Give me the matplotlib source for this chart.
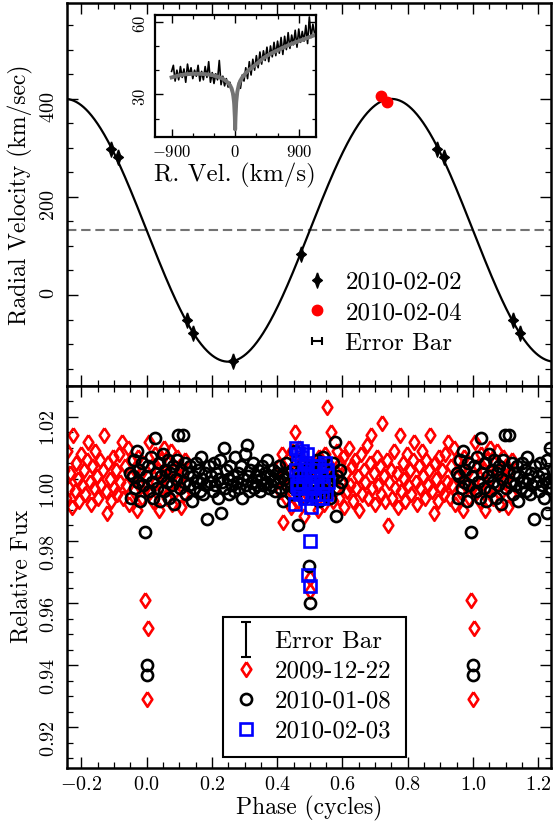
import numpy as np
import matplotlib
matplotlib.use('Agg')
import matplotlib.pyplot as plt
from matplotlib.ticker import MultipleLocator
from matplotlib.legend_handler import HandlerErrorbar

plt.rcParams['font.family'] = ['cmr10', 'DejaVu Serif']
plt.rcParams['mathtext.fontset'] = 'cm'
plt.rcParams['axes.formatter.use_mathtext'] = True
plt.rcParams['axes.unicode_minus'] = True

# ---------------- data ----------------
# radial velocity (2010-02-02) and (2010-02-04)
rv_phase = [0.124, 0.143, 0.265, 0.473, 0.890, 0.911]
rv_vel = [-52, -78, -134, 83, 297, 281]
rv2_phase = [0.717, 0.736]
rv2_vel = [405, 393]
# orbital fit (systemic velocity, semi-amplitude)
gamma = 132.0
K_amp = 268.0

# inset spectrum
spec_v = [-900, -875, -850, -825, -800, -775, -750, -725, -700, -675,
          -650, -625, -600, -575, -550, -525, -500, -475, -450, -425,
          -400, -375, -350, -325, -300, -275, -250, -225, -200, -175,
          -150, -125, -100, -75, -50, -25, 0, 25, 50, 75,
          100, 125, 150, 175, 200, 225, 250, 275, 300, 325,
          350, 375, 400, 425, 450, 475, 500, 525, 550, 575,
          600, 625, 650, 675, 700, 725, 750, 775, 800, 825,
          850, 875, 900, 925, 950, 975, 1000, 1025, 1050, 1075,
          1100, 1125]
spec_f = [39.5, 42.0, 35.5, 40.0, 36.0, 41.5, 37.0, 40.5, 35.0, 42.5,
          38.0, 41.0, 36.5, 40.0, 37.5, 42.0, 35.5, 39.5, 36.0, 41.5,
          37.0, 43.5, 35.0, 39.0, 34.5, 38.5, 36.0, 44.0, 34.0, 37.5,
          33.5, 36.5, 33.0, 35.0, 31.5, 28.5, 17.0, 29.5, 35.0, 32.5,
          38.0, 35.5, 41.0, 36.5, 43.5, 38.0, 44.5, 40.0, 46.0, 41.0,
          47.5, 42.5, 48.0, 44.0, 49.5, 43.5, 50.0, 45.5, 51.5, 46.0,
          52.0, 47.0, 53.5, 46.5, 54.0, 48.5, 55.5, 49.0, 54.5, 50.5,
          56.5, 49.5, 57.0, 51.5, 56.0, 52.0, 58.5, 51.0, 62.0, 53.5,
          59.0, 55.0]
fit_v = [-900, -800, -700, -600, -500, -400, -300, -200, -150, -100, -70, -50,
         -30, -15, -5, 0, 5, 15, 30, 50, 70, 100, 150, 200, 300, 400, 500,
         600, 700, 800, 900, 1000, 1100, 1140]
fit_f = [37.0, 37.8, 38.3, 38.5, 38.5, 38.3, 37.8, 36.8, 36.0, 34.8, 33.6, 32.4,
         30.2, 26.5, 20.5, 15.5, 20.5, 26.8, 31.0, 33.8, 35.5, 37.0, 38.8, 40.2,
         42.5, 45.0, 46.8, 48.2, 49.6, 50.9, 52.0, 53.1, 54.2, 54.6]

# light curves: 2009-12-22
red_phase = [0.405, 0.409, 0.414, 0.418, 0.423, 0.427, 0.432, 0.436, 0.441, 0.445,
             0.450, 0.454, 0.459, 0.463, 0.468, 0.472, 0.477, 0.481, 0.486, 0.490,
             0.495, 0.499, 0.502, 0.506, 0.511, 0.515, 0.520, 0.524, 0.529, 0.533,
             0.538, 0.542, 0.547, 0.552, 0.556, 0.561, 0.566, 0.570, 0.575, 0.579,
             0.584, 0.588, 0.593, 0.597, 0.602, 0.606, 0.611, 0.615, 0.620, 0.624,
             0.629, 0.633, 0.638, 0.642, 0.647, 0.651, 0.656, 0.660, 0.665, 0.669,
             0.674, 0.678, 0.683, 0.687, 0.692, 0.696, 0.701, 0.705, 0.710, 0.714,
             0.719, 0.722, 0.727, 0.731, 0.736, 0.739, 0.744, 0.748, 0.753, 0.757,
             0.762, 0.766, 0.771, 0.775, 0.780, 0.784, 0.789, 0.793, 0.798, 0.802,
             0.807, 0.811, 0.816, 0.820, 0.825, 0.829, 0.834, 0.838, 0.843, 0.847,
             0.852, 0.856, 0.861, 0.865, 0.869, 0.874, 0.879, 0.883, 0.888, 0.892,
             0.897, 0.901, 0.906, 0.910, 0.915, 0.919, 0.924, 0.928, 0.933, 0.937,
             0.942, 0.946, 0.951, 0.955, 0.960, 0.964, 0.969, 0.973, 0.978, 0.982,
             0.987, 0.991, 0.994, 0.996, 0.000, 0.003, 0.007, 0.011, 0.016, 0.020,
             0.025, 0.029, 0.034, 0.038, 0.043, 0.047, 0.052, 0.056, 0.061, 0.065,
             0.070, 0.074, 0.079, 0.083, 0.088, 0.092, 0.097, 0.101, 0.106, 0.110,
             0.115, 0.119]
red_flux = [1.004, 0.996, 1.008, 0.986, 1.001, 0.994, 1.006, 0.999, 0.991, 1.009,
            0.997, 1.015, 1.003, 0.993, 1.010, 0.999, 1.006, 0.988, 1.002, 0.995,
            1.004, 0.968, 0.964, 0.998, 1.005, 0.994, 1.002, 0.990, 1.007, 0.997,
            1.003, 0.992, 1.008, 1.023, 0.996, 1.004, 1.015, 0.993, 1.001, 0.997,
            1.009, 0.994, 1.005, 0.999, 1.007, 0.991, 1.002, 0.996, 1.010, 0.998,
            1.004, 0.993, 1.006, 0.997, 1.001, 0.990, 1.008, 0.995, 1.003, 0.999,
            1.011, 0.994, 1.005, 1.014, 0.997, 1.002, 0.992, 1.007, 0.998, 1.004,
            0.995, 1.018, 1.001, 0.993, 1.006, 0.985, 0.999, 1.003, 0.994, 1.009,
            0.997, 1.002, 0.991, 1.014, 0.996, 1.005, 1.000, 0.993, 1.008, 0.998,
            1.003, 0.995, 1.006, 1.012, 0.999, 0.992, 1.004, 0.997, 1.009, 1.001,
            0.994, 1.006, 0.998, 1.003, 1.014, 0.996, 0.989, 1.005, 1.000, 0.993,
            1.007, 0.997, 1.003, 0.995, 1.008, 0.999, 1.012, 0.994, 1.004, 0.998,
            1.010, 0.992, 1.006, 1.001, 0.996, 1.003, 0.990, 1.007, 0.998, 1.002,
            0.994, 1.005, 0.961, 0.997, 0.929, 0.952, 1.012, 0.996, 1.004, 0.993,
            1.008, 0.999, 1.003, 0.990, 1.006, 0.997, 1.010, 1.001, 0.994, 1.005,
            0.998, 1.009, 0.992, 1.003, 0.996, 1.007, 0.999, 1.004, 0.991, 1.002,
            0.995, 1.006]

# light curves: 2010-01-08
blk_phase = [0.950, 0.953, 0.957, 0.961, 0.965, 0.969, 0.973, 0.977, 0.981, 0.985,
             0.989, 0.994, 0.998, 0.000, 0.001, 0.004, 0.008, 0.012, 0.016, 0.020,
             0.025, 0.029, 0.033, 0.037, 0.041, 0.045, 0.049, 0.053, 0.057, 0.061,
             0.065, 0.069, 0.073, 0.077, 0.081, 0.085, 0.089, 0.093, 0.097, 0.101,
             0.105, 0.110, 0.114, 0.118, 0.122, 0.126, 0.130, 0.134, 0.138, 0.142,
             0.146, 0.150, 0.154, 0.158, 0.162, 0.166, 0.170, 0.174, 0.178, 0.182,
             0.186, 0.190, 0.194, 0.198, 0.202, 0.206, 0.210, 0.214, 0.218, 0.222,
             0.226, 0.228, 0.232, 0.236, 0.240, 0.244, 0.248, 0.252, 0.256, 0.260,
             0.264, 0.268, 0.272, 0.276, 0.280, 0.284, 0.288, 0.292, 0.296, 0.300,
             0.304, 0.306, 0.310, 0.314, 0.318, 0.322, 0.326, 0.330, 0.334, 0.338,
             0.342, 0.346, 0.350, 0.354, 0.358, 0.362, 0.366, 0.370, 0.374, 0.378,
             0.382, 0.386, 0.390, 0.394, 0.398, 0.402, 0.406, 0.410, 0.414, 0.418,
             0.422, 0.426, 0.430, 0.434, 0.438, 0.442, 0.446, 0.450, 0.454, 0.458,
             0.462, 0.464, 0.468, 0.472, 0.476, 0.480, 0.484, 0.488, 0.492, 0.497,
             0.499, 0.503, 0.507, 0.511, 0.515, 0.519, 0.523, 0.527, 0.531, 0.535,
             0.539, 0.543, 0.547, 0.551, 0.555, 0.559, 0.563, 0.567, 0.571, 0.576,
             0.579, 0.583, 0.587, 0.591, 0.595]
blk_flux = [1.002, 0.994, 1.001, 1.006, 0.997, 1.009, 0.999, 1.003, 0.993, 1.005,
            0.998, 0.983, 1.001, 0.940, 0.937, 1.004, 0.996, 1.007, 0.999, 0.994,
            1.013, 1.002, 0.997, 1.005, 0.993, 1.001, 1.008, 0.996, 1.003, 0.999,
            1.006, 0.994, 1.002, 0.998, 1.004, 0.992, 1.000, 1.006, 1.014, 0.997,
            1.003, 1.014, 0.999, 1.005, 0.995, 1.002, 0.998, 1.004, 0.993, 1.001,
            0.997, 1.005, 0.999, 1.003, 0.996, 1.007, 1.000, 0.995, 1.002, 0.998,
            0.987, 1.004, 0.999, 1.001, 0.996, 1.005, 0.998, 1.002, 0.994, 1.000,
            1.006, 0.989, 0.999, 1.010, 0.997, 1.003, 1.000, 0.995, 1.004, 0.998,
            1.001, 0.996, 1.007, 0.999, 1.002, 0.997, 1.004, 0.994, 1.000, 1.008,
            0.998, 1.011, 1.001, 0.996, 1.003, 0.999, 1.005, 0.997, 1.001, 0.998,
            1.003, 0.996, 1.000, 1.004, 0.998, 1.002, 0.999, 1.006, 0.997, 1.001,
            0.998, 1.003, 1.000, 0.996, 1.002, 0.999, 1.004, 0.997, 1.001, 0.993,
            1.000, 1.005, 0.998, 1.002, 0.999, 0.995, 1.003, 0.997, 1.009, 1.000,
            0.996, 0.985, 1.002, 0.998, 1.004, 0.994, 1.001, 0.997, 1.003, 0.972,
            0.960, 0.999, 1.004, 0.996, 1.002, 0.998, 1.006, 0.993, 1.001, 0.997,
            1.007, 0.999, 0.995, 1.003, 0.998, 1.002, 0.994, 1.000, 1.005, 1.012,
            0.988, 1.001, 0.997, 1.003, 0.999]

# light curves: 2010-02-03
blu_phase = [0.455, 0.457, 0.459, 0.461, 0.463, 0.464, 0.467, 0.470, 0.473, 0.475,
             0.478, 0.481, 0.484, 0.487, 0.491, 0.494, 0.497, 0.501, 0.502, 0.504,
             0.506, 0.508, 0.511, 0.514, 0.518, 0.522, 0.526, 0.529, 0.533, 0.537,
             0.541, 0.546, 0.549, 0.552, 0.555]
blu_flux = [0.992, 1.010, 1.003, 0.998, 1.008, 0.997, 1.001, 0.995, 1.007, 1.009,
            0.999, 1.002, 0.994, 1.005, 1.008, 0.969, 0.998, 0.9655, 0.980, 0.991,
            1.003, 0.997, 1.001, 0.995, 1.004, 0.999, 0.994, 1.004, 1.001, 0.994,
            0.998, 1.005, 0.995, 1.003, 0.999]

XLIM = (-0.245, 1.239)


def wrap(ph, val):
    ph = np.asarray(ph, float)
    val = np.asarray(val, float)
    p = np.concatenate([ph - 1, ph, ph + 1])
    v = np.concatenate([val, val, val])
    m = (p >= XLIM[0] - 0.01) & (p <= XLIM[1] + 0.01)
    return p[m], v[m]


star = [(0, 1), (0.25, 0.3), (0.64, 0), (0.25, -0.3), (0, -1),
        (-0.25, -0.3), (-0.64, 0), (-0.25, 0.3), (0, 1)]
odiam = [(0, 1), (0.66, 0), (0, -1), (-0.66, 0), (0, 1)]

fig = plt.figure(figsize=(5.54, 8.25), dpi=100)
L, W = 66.7 / 554, 484.3 / 554
ax1 = fig.add_axes([L, 1 - 385.7 / 825, W, (385.7 - 3.3) / 825])
ax2 = fig.add_axes([L, 1 - 767.7 / 825, W, (767.7 - 385.7) / 825])


def style(ax, xmaj, xmin, ymaj, ymin, size=14.5, pad=6):
    ax.xaxis.set_major_locator(MultipleLocator(xmaj))
    ax.xaxis.set_minor_locator(MultipleLocator(xmin))
    ax.yaxis.set_major_locator(MultipleLocator(ymaj))
    ax.yaxis.set_minor_locator(MultipleLocator(ymin))
    ax.tick_params(which='both', direction='in', top=True, right=True)
    ax.tick_params(which='major', length=8, width=1.0, labelsize=size, pad=pad)
    ax.tick_params(which='minor', length=4, width=0.9)
    ax.tick_params(axis='y', labelrotation=90)
    for s in ax.spines.values():
        s.set_linewidth(1.8)


# ---------------- top panel ----------------
phg = np.linspace(XLIM[0], XLIM[1], 800)
ax1.plot(phg, gamma - K_amp * np.sin(2 * np.pi * phg), color='k', lw=1.6, zorder=2)
ax1.axhline(gamma, color='0.45', lw=1.5, ls=(0, (4.5, 2.3)), zorder=1)
px, py = wrap(rv_phase, rv_vel)
h1, = ax1.plot(px, py, ls='none', marker=star, ms=11, color='k', label='2010-02-02', zorder=3)
px, py = wrap(rv2_phase, rv2_vel)
h2, = ax1.plot(px, py, ls='none', marker='o', ms=7.5, color='red', mec='red', label='2010-02-04', zorder=3)
h3 = ax1.errorbar([np.nan], [np.nan], xerr=[1.0], fmt='none', ecolor='k', elinewidth=1.5,
                  capsize=3, capthick=1.5, label='Error Bar')
ax1.set_xlim(*XLIM)
ax1.set_ylim(-185, 595)
style(ax1, 0.2, 0.05, 200, 50)
ax1.tick_params(axis='x', labelbottom=False)
ax1.set_ylabel('Radial Velocity (km/sec)', fontsize=17)
ax1.yaxis.set_label_coords(-0.07, 0.5)
leg1 = ax1.legend(handles=[h1, h2, h3], loc='lower left', bbox_to_anchor=(0.475, 0.055),
                  frameon=False, fontsize=18, handlelength=0.8, handletextpad=0.75,
                  labelspacing=0.32, borderpad=0.4, borderaxespad=0,
                  handler_map={h3: HandlerErrorbar(xerr_size=0.2)})

# inset
axi = fig.add_axes([155 / 554, 1 - 136.7 / 825, (315.7 - 155) / 554, (136.7 - 15) / 825])
axi.plot(spec_v, spec_f, color='k', lw=1.2)
axi.plot(fit_v, fit_f, color='0.45', lw=2.8)
axi.set_xlim(-1135, 1140)
axi.set_ylim(12.5, 62.8)
style(axi, 900, 300, 30, 10, size=12, pad=5)
for s in axi.spines.values():
    s.set_linewidth(1.6)
axi.tick_params(which='major', length=6)
axi.tick_params(which='minor', length=3)
axi.set_xlabel('R. Vel. (km/s)', fontsize=18, labelpad=2)

# ---------------- bottom panel ----------------
px, py = wrap(red_phase, red_flux)
g1, = ax2.plot(px, py, ls='none', marker=odiam, ms=10.5, mfc='none', mec='red', mew=1.9,
               label='2009-12-22')
px, py = wrap(blk_phase, blk_flux)
g2, = ax2.plot(px, py, ls='none', marker='o', ms=8.0, mfc='none', mec='k', mew=1.9,
               label='2010-01-08')
px, py = wrap(blu_phase, blu_flux)
g3, = ax2.plot(px, py, ls='none', marker='s', ms=8.0, mfc='none', mec='blue', mew=1.9,
               label='2010-02-03')
g0 = ax2.errorbar([np.nan], [np.nan], yerr=[1.0], fmt='none', ecolor='k', elinewidth=1.5,
                  capsize=3.6, capthick=1.5, label='Error Bar')
ax2.set_xlim(*XLIM)
ax2.set_ylim(0.907, 1.030)
style(ax2, 0.2, 0.05, 0.02, 0.005)
ax2.set_xlabel('Phase (cycles)', fontsize=17)
ax2.xaxis.set_label_coords(0.5, -0.075)
ax2.set_ylabel('Relative Fux', fontsize=17)
ax2.yaxis.set_label_coords(-0.07, 0.5)
leg2 = ax2.legend(handles=[g0, g1, g2, g3], loc='lower left', bbox_to_anchor=(0.322, 0.029),
                  frameon=True, fancybox=False, edgecolor='k', framealpha=1, fontsize=18,
                  handlelength=0.8, handletextpad=0.75, labelspacing=0.3, borderpad=0.55,
                  borderaxespad=0, handler_map={g0: HandlerErrorbar(yerr_size=0.7)})
leg2.get_frame().set_linewidth(1.5)

fig.savefig('out.png', dpi=100)
